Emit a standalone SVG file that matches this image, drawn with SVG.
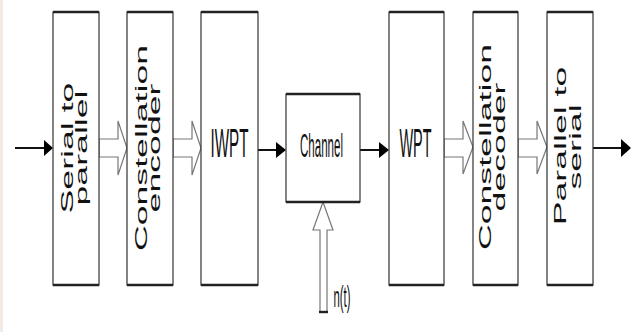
<svg xmlns="http://www.w3.org/2000/svg" width="636" height="332" viewBox="0 0 636 332">
<style>
.box{fill:#fff;stroke:#333;stroke-width:1.2}
.hl{stroke:#222;stroke-width:2.4}
.sol{stroke:#111;stroke-width:2;fill:none}
.head{fill:#000}
.hollow{fill:#fff;stroke:#777;stroke-width:1.2}
.v{font-family:"Liberation Sans",Arial,sans-serif;font-size:17px;fill:#111;text-anchor:middle}
.h{font-family:"Liberation Sans",Arial,sans-serif;fill:#111;text-anchor:middle}
</style>
<rect x="0" y="0" width="636" height="332" fill="#fff"/>
<rect x="0" y="0" width="3" height="332" fill="#f2ebe5"/>
<g id="connectors">
  <line class="sol" x1="15" y1="148" x2="45" y2="148"/>
  <polygon class="head" points="44,140 53,148 44,156"/>
  <polygon class="hollow" points="99,139 118,139 118,121 127,148 118,175 118,157 99,157"/>
  <polygon class="hollow" points="173,139 192,139 192,121 201,148 192,175 192,157 173,157"/>
  <line class="sol" x1="258" y1="150" x2="278" y2="150"/>
  <polygon class="head" points="276,142 286,150 276,158"/>
  <line class="sol" x1="360" y1="150" x2="381" y2="150"/>
  <polygon class="head" points="379,142 389,150 379,158"/>
  <polygon class="hollow" points="444,139 463,139 463,121 473,147 463,174 463,157 444,157"/>
  <polygon class="hollow" points="518,139 537,139 537,121 547,147 537,174 537,157 518,157"/>
  <line class="sol" x1="593" y1="148" x2="623" y2="148"/>
  <polygon class="head" points="621,139 631,148 621,157"/>
  <polygon class="hollow" points="320,312 320,230 313,230 323,202 333,230 327,230 327,312"/>
  <line class="hl" x1="319" y1="312" x2="328" y2="312"/>
</g>
<g id="serial_to_parallel">
  <rect class="box" x="53" y="12" width="46" height="273"/>
  <line class="hl" x1="53" y1="12" x2="99" y2="12"/><line class="hl" x1="53" y1="285" x2="99" y2="285"/>
  <text class="v" transform="translate(73,148) rotate(-90) scale(2.1,1)">Serial to</text>
  <text class="v" transform="translate(87,148) rotate(-90) scale(2.1,1)">parallel</text>
</g>
<g id="constellation_encoder">
  <rect class="box" x="127" y="12" width="46" height="273"/>
  <line class="hl" x1="127" y1="12" x2="173" y2="12"/><line class="hl" x1="127" y1="285" x2="173" y2="285"/>
  <text class="v" transform="translate(147,148) rotate(-90) scale(2.1,1)">Constellation</text>
  <text class="v" transform="translate(160,148) rotate(-90) scale(2.1,1)">encoder</text>
</g>
<g id="iwpt">
  <rect class="box" x="201" y="12" width="57" height="273"/>
  <line class="hl" x1="201" y1="12" x2="258" y2="12"/><line class="hl" x1="201" y1="285" x2="258" y2="285"/>
  <text class="h" font-size="40" transform="translate(229.5,157) scale(0.38,1)">IWPT</text>
</g>
<g id="channel">
  <rect class="box" x="286" y="94" width="74" height="108"/>
  <line class="hl" x1="286" y1="94" x2="360" y2="94"/><line class="hl" x1="286" y1="202" x2="360" y2="202"/>
  <text class="h" font-size="34" transform="translate(321.5,157) scale(0.34,1)">Channel</text>
</g>
<g id="noise">
  <text class="h" font-size="30" transform="translate(342,307) scale(0.38,1)">n(t)</text>
</g>
<g id="wpt">
  <rect class="box" x="389" y="12" width="55" height="273"/>
  <line class="hl" x1="389" y1="12" x2="444" y2="12"/><line class="hl" x1="389" y1="285" x2="444" y2="285"/>
  <text class="h" font-size="40" transform="translate(415.5,157) scale(0.36,1)">WPT</text>
</g>
<g id="constellation_decoder">
  <rect class="box" x="473" y="12" width="45" height="273"/>
  <line class="hl" x1="473" y1="12" x2="518" y2="12"/><line class="hl" x1="473" y1="285" x2="518" y2="285"/>
  <text class="v" transform="translate(491,147) rotate(-90) scale(2.1,1)">Constellation</text>
  <text class="v" transform="translate(505,147) rotate(-90) scale(2.1,1)">decoder</text>
</g>
<g id="parallel_to_serial">
  <rect class="box" x="547" y="12" width="46" height="273"/>
  <line class="hl" x1="547" y1="12" x2="593" y2="12"/><line class="hl" x1="547" y1="285" x2="593" y2="285"/>
  <text class="v" transform="translate(566,146) rotate(-90) scale(2.1,1)">Parallel to</text>
  <text class="v" transform="translate(581,147) rotate(-90) scale(2.1,1)">serial</text>
</g>
</svg>
